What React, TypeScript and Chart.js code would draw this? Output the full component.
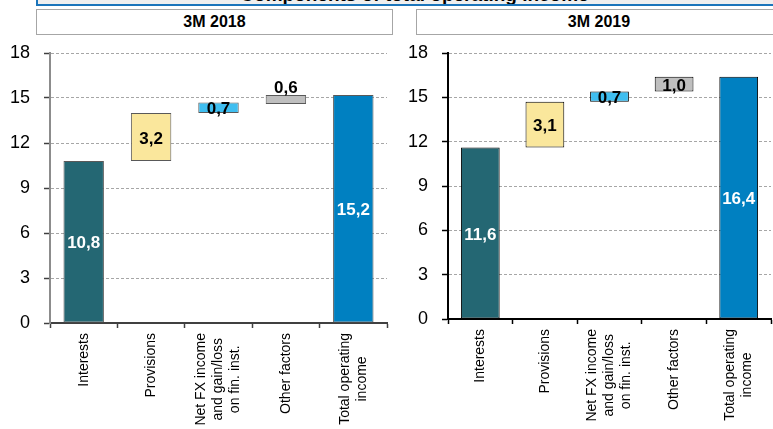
import React, { useEffect, useRef } from "react";
import { Chart, registerables } from "chart.js";

Chart.register(...registerables);

const categories: (string | string[])[] = [
  "Interests",
  "Provisions",
  ["Net FX income", "and gain/loss", "on fin. inst."],
  "Other factors",
  ["Total operating", "income"],
];
const yMin = 0;
const yMax = 18;
const yStep = 3;

const values2018 = [10.8, 3.2, 0.7, 0.6, 15.2];
const bases2018 = [0, 10.8, 14.0, 14.6, 0];
const values2019 = [11.6, 3.1, 0.7, 1.0, 16.4];
const bases2019 = [0, 11.6, 14.7, 15.4, 0];

const panelTitles = ["3M 2018", "3M 2019"];
const mainTitle = "Components of total operating income";

const barColors = ["#246773", "#FAE79C", "#3FBEF0", "#BFBFBF", "#0080C1"];
const labelColors = ["#ffffff", "#000000", "#000000", "#000000", "#ffffff"];

const FAM = '"Liberation Sans", Arial, Helvetica, sans-serif';

type PanelProps = {
  values: number[];
  bases: number[];
  left: number;
  top: number;
  width: number;
  height: number;
  padTop: number;
  padRight: number;
  yWidth: number;
  xHeight: number;
  yAxisColor: string;
  xAxisColor: string;
  barBorder: string;
  aboveIdx: number[];
};

function Panel(p: PanelProps) {
  const ref = useRef<HTMLCanvasElement>(null);
  useEffect(() => {
    const canvas = ref.current!;
    const valueLabels = {
      id: "valueLabels",
      afterDatasetsDraw(chart: any) {
        const ctx = chart.ctx;
        const meta = chart.getDatasetMeta(0);
        ctx.save();
        ctx.font = `bold 17px ${FAM}`;
        ctx.textAlign = "center";
        ctx.textBaseline = "middle";
        meta.data.forEach((el: any, i: number) => {
          const top = Math.min(el.y, el.base);
          const bot = Math.max(el.y, el.base);
          const txt = p.values[i].toFixed(1).replace(".", ",");
          const above = p.aboveIdx.includes(i);
          const cy = above ? top - 7 : (top + bot) / 2 + 2;
          ctx.fillStyle = above ? "#000000" : labelColors[i];
          ctx.fillText(txt, el.x, cy);
        });
        ctx.restore();
      },
    };
    const xLabels = {
      id: "xLabels",
      afterDraw(chart: any) {
        const ctx = chart.ctx;
        const xs = chart.scales.x;
        const top = chart.chartArea.bottom + 10;
        const lh = 17;
        ctx.save();
        ctx.font = `14px ${FAM}`;
        ctx.fillStyle = "#000000";
        ctx.textAlign = "center";
        ctx.textBaseline = "middle";
        categories.forEach((cat, i) => {
          const lines = Array.isArray(cat) ? cat : [cat];
          const maxW = Math.max(...lines.map((l) => ctx.measureText(l).width));
          const x0 = xs.getPixelForValue(i);
          ctx.save();
          ctx.translate(x0, top + maxW / 2);
          ctx.rotate(-Math.PI / 2);
          lines.forEach((l, j) => {
            ctx.fillText(l, 0, (j - (lines.length - 1) / 2) * lh);
          });
          ctx.restore();
        });
        ctx.restore();
      },
    };
    const chart = new Chart(canvas, {
      type: "bar",
      data: {
        labels: categories,
        datasets: [
          {
            data: p.values.map((v, i) => [p.bases[i], p.bases[i] + v]) as any,
            backgroundColor: barColors,
            borderColor: p.barBorder,
            borderWidth: 1,
            borderSkipped: false,
            barPercentage: 0.6,
            categoryPercentage: 1,
          },
        ],
      },
      options: {
        responsive: false,
        animation: false,
        layout: { padding: { top: p.padTop, right: p.padRight, left: 0, bottom: 0 } },
        plugins: {
          legend: { display: false },
          tooltip: { enabled: false },
          title: { display: false },
        },
        scales: {
          x: {
            ticks: { display: false },
            grid: {
              display: true,
              drawOnChartArea: false,
              drawTicks: true,
              tickLength: 5,
              tickColor: p.xAxisColor,
              tickWidth: 1.5,
              offset: true,
            },
            border: { display: true, color: p.xAxisColor, width: 2 },
            afterFit: (s: any) => {
              s.height = p.xHeight;
              s.paddingLeft = 0;
              s.paddingRight = 0;
            },
          },
          y: {
            min: yMin,
            max: yMax,
            ticks: {
              stepSize: yStep,
              color: "#000000",
              font: { family: FAM, size: 18 },
              padding: 14,
            },
            grid: {
              color: "#a6a6a6",
              lineWidth: 1,
              tickLength: 6,
              tickColor: p.xAxisColor,
              tickWidth: 1.5,
              tickBorderDash: [],
            },
            border: { display: true, color: p.yAxisColor, width: 2, dash: [3, 2] },
            afterFit: (s: any) => {
              s.width = p.yWidth;
              s.paddingTop = 0;
              s.paddingBottom = 0;
            },
          },
        },
      } as any,
      plugins: [valueLabels, xLabels],
    });
    return () => chart.destroy();
  }, []);
  return (
    <canvas
      ref={ref}
      width={p.width}
      height={p.height}
      style={{ position: "absolute", left: p.left, top: p.top, width: p.width, height: p.height }}
    />
  );
}

function Header({ left, width, text }: { left: number; width: number; text: string }) {
  return (
    <div
      style={{
        position: "absolute",
        left,
        top: 9,
        width,
        height: 24,
        border: "1px solid #a6a6a6",
        background: "#ffffff",
        boxSizing: "content-box",
        textAlign: "center",
        lineHeight: "24px",
        fontFamily: FAM,
        fontWeight: "bold",
        fontSize: 16,
        color: "#000",
      }}
    >
      {text}
    </div>
  );
}

export default function App() {
  return (
    <div
      style={{
        position: "fixed",
        left: 0,
        top: 0,
        width: 773,
        height: 429,
        background: "#ffffff",
        overflow: "hidden",
      }}
    >
      <div
        style={{
          position: "absolute",
          left: 36,
          top: -30,
          width: 745,
          height: 25,
          paddingTop: 7,
          border: "2px solid #1b75bb",
          background: "#efefef",
          overflow: "hidden",
          textAlign: "center",
          fontFamily: FAM,
          fontWeight: "bold",
          fontSize: 19,
          lineHeight: "32px",
          color: "#000",
        }}
      >
        <span style={{ position: "relative", left: 4 }}>{mainTitle}</span>
      </div>
      <Header left={36} width={355} text={panelTitles[0]} />
      <Header left={416} width={364} text={panelTitles[1]} />
      <Panel
        values={values2018}
        bases={bases2018}
        left={0}
        top={40}
        width={395}
        height={389}
        padTop={13}
        padRight={8}
        yWidth={50}
        xHeight={106}
        yAxisColor="#8c8c8c"
        xAxisColor="#404040"
        barBorder="#595959"
        aboveIdx={[3]}
      />
      <Panel
        values={values2019}
        bases={bases2019}
        left={395}
        top={40}
        width={378}
        height={389}
        padTop={13}
        padRight={2}
        yWidth={53}
        xHeight={110}
        yAxisColor="#000000"
        xAxisColor="#000000"
        barBorder="#000000"
        aboveIdx={[]}
      />
    </div>
  );
}
